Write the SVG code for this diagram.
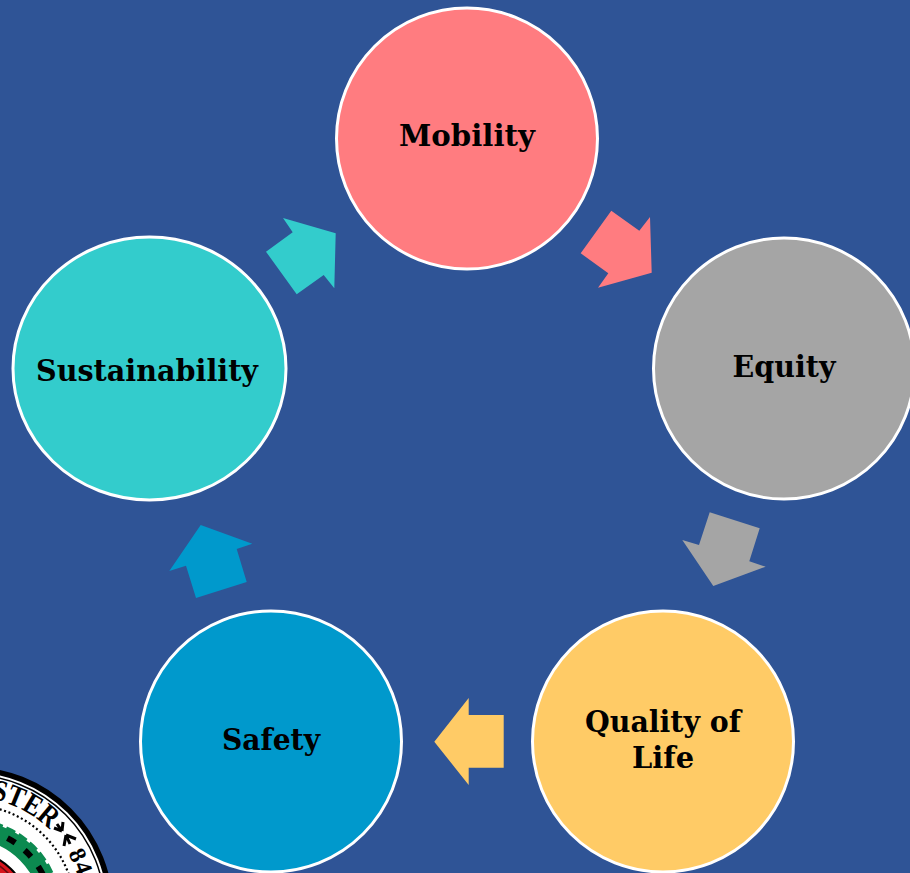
<svg xmlns="http://www.w3.org/2000/svg" width="910" height="873" viewBox="0 0 910 873">
<style>
.n{stroke:#fff;stroke-width:3}
.t{font-family:"DejaVu Serif","Liberation Serif",serif;font-weight:700;font-size:30px;fill:#000;text-anchor:middle}
.s{font-family:"Liberation Serif",serif;font-weight:700;fill:#000}
.o{stroke:#000;stroke-width:3;stroke-linecap:butt;fill:none}
</style>
<defs>
<path id="ring" d="M-30 797A113 113 0 1 1 -30 1023A113 113 0 1 1 -30 797"/>
</defs>
<rect width="910" height="873" fill="#2f5496"/>
<g id="seal">
<circle cx="-30" cy="910" r="140.5" fill="#fff" stroke="#000" stroke-width="5.5"/>
<circle cx="-30" cy="910" r="135" fill="none" stroke="#000" stroke-width="1.5"/>
<circle cx="-30" cy="910" r="105" fill="none" stroke="#000" stroke-width="2.2" stroke-dasharray="2 2.6"/>
<circle cx="-30" cy="910" r="81" fill="none" stroke="#0c8a50" stroke-width="21"/>
<circle cx="-30" cy="910" r="81" fill="none" stroke="#000" stroke-width="6" stroke-dasharray="9 12"/>
<circle cx="-30" cy="910" r="91" fill="none" stroke="#fff" stroke-width="3" stroke-dasharray="4 10"/>
<circle cx="-30" cy="910" r="61" fill="#fff"/>
<circle cx="-30" cy="910" r="58" fill="#d8141c" stroke="#000" stroke-width="2"/>
<circle cx="-30" cy="910" r="53" fill="none" stroke="#6a0a10" stroke-width="1.5"/>
<path class="o" d="M62 831L54 828M62 831L57 824M62 831L63 822M66 835L64 846M66 835L70 844M66 835L76 839"/>
<text class="s" font-size="30"><textPath href="#ring" startOffset="21" textLength="67" lengthAdjust="spacingAndGlyphs">STER</textPath></text>
<text class="s" font-size="24"><textPath href="#ring" startOffset="118" letter-spacing="1">84</textPath></text>
</g>
<g id="connectors">
<polygon fill="#ff7c80" points="611.3,210.7 639.3,230.7 650,217 651.7,272.7 598,287.7 608.3,273.3 580.7,253.3"/>
<polygon fill="#a5a5a5" points="709.7,512.3 759.7,528.3 749.3,561.3 765.7,566.7 713.3,586 682.3,540 699,545"/>
<polygon fill="#ffcb66" points="468.7,698 468.7,715 503.7,715 503.7,767.7 468.7,767.7 468.7,785 434.3,741.7"/>
<polygon fill="#0099cc" points="200.7,525 252.3,543.7 236.7,549 246.7,582 196,598 186,565.7 169.3,571"/>
<polygon fill="#33cccc" points="283,218 335.7,233.3 334.3,288.3 323.7,275 296.7,294.3 266,251.7 292.7,232.3"/>
</g>
<g id="mobility"><circle class="n" cx="467" cy="138.5" r="130.5" fill="#ff7c80"/><text class="t" x="467" y="146" textLength="136" lengthAdjust="spacingAndGlyphs">Mobility</text></g>
<g id="equity"><circle class="n" cx="784" cy="368.5" r="130.5" fill="#a5a5a5"/><text class="t" x="784" y="377" textLength="103" lengthAdjust="spacingAndGlyphs">Equity</text></g>
<g id="quality"><circle class="n" cx="663" cy="741.5" r="130.5" fill="#ffcb66"/><text class="t" x="663" y="732" textLength="156" lengthAdjust="spacingAndGlyphs">Quality of</text><text class="t" x="663" y="768" textLength="62" lengthAdjust="spacingAndGlyphs">Life</text></g>
<g id="safety"><circle class="n" cx="271" cy="741.5" r="130.5" fill="#0099cc"/><text class="t" x="271" y="750" textLength="98" lengthAdjust="spacingAndGlyphs">Safety</text></g>
<g id="sustainability"><ellipse class="n" cx="149.5" cy="368.5" rx="136.5" ry="131.5" fill="#33cccc"/><text class="t" x="147" y="381" textLength="222" lengthAdjust="spacingAndGlyphs">Sustainability</text></g>
</svg>
